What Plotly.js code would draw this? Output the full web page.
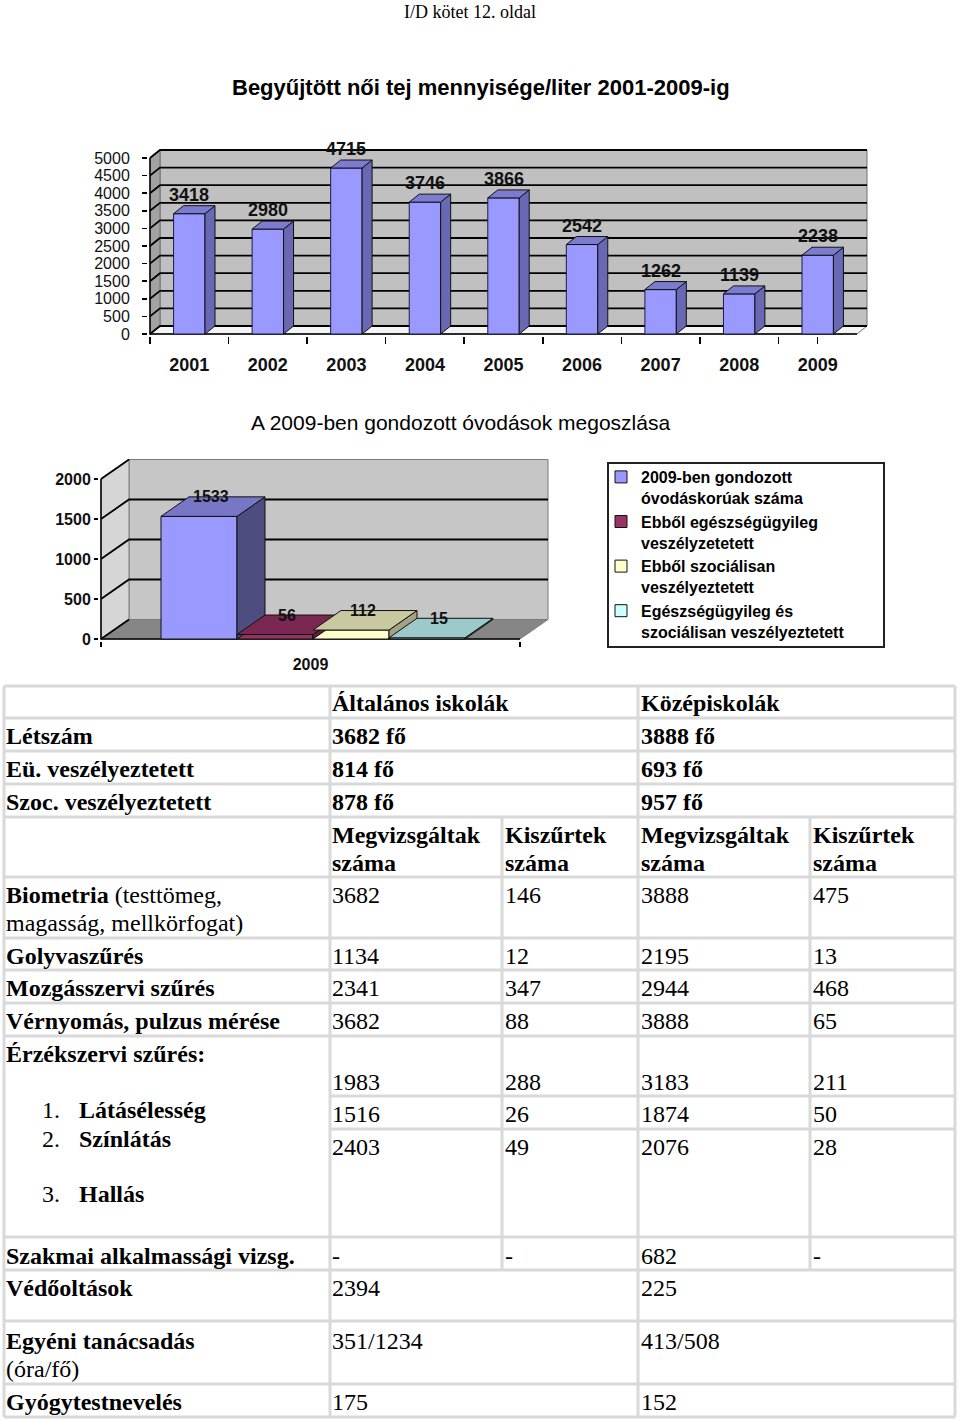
<!DOCTYPE html>
<html><head><meta charset="utf-8">
<script src="https://cdn.plot.ly/plotly-3.0.1.min.js"></script>
<style>html,body{margin:0;padding:0;background:#fff}</style>
</head><body><div id="page" style="width:960px;height:1420px"></div>
<script>
// ================= DATA =================
const pageHeader = 'I/D kötet 12. oldal';

const chart1Title = 'Begyűjtött női tej mennyisége/liter 2001-2009-ig';
const years = [2001, 2002, 2003, 2004, 2005, 2006, 2007, 2008, 2009];
const milkLiters = [3418, 2980, 4715, 3746, 3866, 2542, 1262, 1139, 2238];

const chart2Title = 'A 2009-ben gondozott óvodások megoszlása';
const kgYear = 2009;
const kgSeriesNames = [
  ['2009-ben gondozott', 'óvodáskorúak száma'],
  ['Ebből egészségügyileg', 'veszélyzetetett'],
  ['Ebből szociálisan', 'veszélyeztetett'],
  ['Egészségügyileg és', 'szociálisan veszélyeztetett']
];
const kgValues = [1533, 56, 112, 15];

const schoolTypes = ['Általános iskolák', 'Középiskolák'];
const countLabels = ['Létszám', 'Eü. veszélyeztetett', 'Szoc. veszélyeztetett'];
const countAltalanos = ['3682 fő', '814 fő', '878 fő'];
const countKozep = ['3888 fő', '693 fő', '957 fő'];
const measureHeads = ['Megvizsgáltak száma', 'Kiszűrtek száma'];

const screenLabels = ['Biometria', 'Golyvaszűrés', 'Mozgásszervi szűrés', 'Vérnyomás, pulzus mérése'];
const screenNotes = ['(testtömeg, magasság, mellkörfogat)', '', '', ''];
const screenAltVizsg = ['3682', '1134', '2341', '3682'];
const screenAltKisz = ['146', '12', '347', '88'];
const screenKozVizsg = ['3888', '2195', '2944', '3888'];
const screenKozKisz = ['475', '13', '468', '65'];

const senseTitle = 'Érzékszervi szűrés:';
const senseItems = ['Látásélesség', 'Színlátás', 'Hallás'];
const senseAltVizsg = ['1983', '1516', '2403'];
const senseAltKisz = ['288', '26', '49'];
const senseKozVizsg = ['3183', '1874', '2076'];
const senseKozKisz = ['211', '50', '28'];

const vocLabel = 'Szakmai alkalmassági vizsg.';
const vocValues = ['-', '-', '682', '-'];

const extraLabels = ['Védőoltások', 'Egyéni tanácsadás', 'Gyógytestnevelés'];
const extraNotes = ['', '(óra/fő)', ''];
const extraAltalanos = ['2394', '351/1234', '175'];
const extraKozep = ['225', '413/508', '152'];

// ================= LAYOUT HELPERS =================
const W = 960, H = 1420;
const px = x => x / W;
const py = y => 1 - y / H;
const SANS = 'Liberation Sans, Arial, sans-serif';
const SERIF = 'Liberation Serif, Times New Roman, serif';

function geom(g, cats) {
  const xmin = cats[0] - 0.5, xmax = cats[cats.length - 1] + 0.5;
  const catPx = (g.right - g.left) / (xmax - xmin);
  const valPx = (g.zeroY - g.topY) / g.topVal;
  const dX = g.depthX / catPx, dY = g.depthY / valPx;
  const padX = g.pad / catPx, padY = g.pad / valPx;
  const ticks = [];
  for (let v = 0; v <= g.topVal; v += g.step) ticks.push(v);
  return {
    xmin, xmax, catPx, valPx, dX, dY, ticks, T: g.topVal,
    xrange: [xmin - padX, xmax + dX + padX],
    yrange: [-padY, g.topVal + dY + padY],
    xdomain: [px(g.left - g.pad), px(g.right + g.depthX + g.pad)],
    ydomain: [py(g.zeroY + g.pad), py(g.topY - g.depthY - g.pad)]
  };
}

function frameShapes(G, xr, yr, st) {
  const s = [];
  const X0 = G.xmin, X1 = G.xmax, dX = G.dX, dY = G.dY, T = G.T;
  const base = { xref: xr, yref: yr, layer: 'below' };
  s.push(Object.assign({}, base, { type: 'rect', x0: X0 + dX, x1: X1 + dX, y0: dY, y1: T + dY,
    fillcolor: st.wall, line: { color: st.edge, width: 1 } }));
  s.push(Object.assign({}, base, { type: 'path',
    path: `M${X0},0L${X0 + dX},${dY}L${X0 + dX},${T + dY}L${X0},${T}Z`,
    fillcolor: st.side, line: { color: st.edge, width: 1 } }));
  s.push(Object.assign({}, base, { type: 'path',
    path: `M${X0},0L${X1},0L${X1 + dX},${dY}L${X0 + dX},${dY}Z`,
    fillcolor: st.floor, line: { color: st.edge, width: 1 } }));
  G.ticks.forEach(v => {
    const horiz = st.gridAll || (v > 0 && v < T);
    s.push(Object.assign({}, base, { type: 'path',
      path: `M${X0},${v}L${X0 + dX},${v + dY}` + (horiz ? `L${X1 + dX},${v + dY}` : ''),
      line: { color: '#000', width: st.gw } }));
  });
  s.push(Object.assign({}, base, { type: 'path',
    path: `M${X0},${T}L${X0},0L${X1},0`, line: { color: '#000', width: 1.5 } }));
  return s;
}

function faceTraces(xl, xr, v, G, sideColor, topColor, xa, ya) {
  const dX = G.dX, dY = G.dY;
  const common = { type: 'scatter', mode: 'lines', fill: 'toself', hoverinfo: 'skip',
    showlegend: false, xaxis: xa, yaxis: ya, line: { color: '#111', width: 1 } };
  return [
    Object.assign({}, common, { x: [xr, xr + dX, xr + dX, xr, xr], y: [0, dY, v + dY, v, 0], fillcolor: sideColor }),
    Object.assign({}, common, { x: [xl, xr, xr + dX, xl + dX, xl], y: [v, v, v + dY, v + dY, v], fillcolor: topColor })
  ];
}

// ================= CHART 1 =================
const g1 = { left: 150, right: 857, zeroY: 334, topY: 158, topVal: 5000, step: 500, depthX: 10, depthY: 8, pad: 2 };
const G1 = geom(g1, years);
const bar1W = 0.4;
const traces = [];
const shapes = [];
const annotations = [];

traces.push({ type: 'bar', x: years, y: milkLiters, width: bar1W, xaxis: 'x', yaxis: 'y',
  marker: { color: '#9999ff', opacity: 1, line: { color: '#1c1c48', width: 1 } },
  hoverinfo: 'skip', showlegend: false, name: chart1Title });
years.forEach((yr, i) => {
  traces.push(...faceTraces(yr - bar1W / 2, yr + bar1W / 2, milkLiters[i], G1, '#6868b4', '#7b7bcf', 'x', 'y'));
  annotations.push({ xref: 'x', yref: 'y', x: yr, y: milkLiters[i], yshift: 19, text: String(milkLiters[i]),
    showarrow: false, xanchor: 'center', yanchor: 'middle',
    font: { family: SANS, size: 18, weight: 'bold', color: '#111' } });
});
shapes.push(...frameShapes(G1, 'x', 'y', { wall: '#c0c0c0', side: '#a2a2a2', floor: '#f4f4f4', edge: '#707070', gridAll: true, gw: 1.8 }));

// ================= CHART 2 =================
const g2 = { left: 101, right: 520, zeroY: 639, topY: 479, topVal: 2000, step: 500, depthX: 28, depthY: 19.5, pad: 2 };
const G2 = geom(g2, [kgYear]);
const bars2LeftPx = 161, bar2Px = 76;
const bar2W = bar2Px / G2.catPx;
const bar2Start = (bars2LeftPx - g2.left) / G2.catPx - 0.5;
const kgFront = ['#9999ff', '#993366', '#ffffcc', '#ccffff'];
const kgSide = ['#4d4d80', '#5e1f3f', '#a3a383', '#86b0b0'];
const kgTop = ['#7777c6', '#7a2852', '#c9c9a1', '#9ccaca'];
kgValues.forEach((v, i) => {
  const off = bar2Start + i * bar2W;
  traces.push({ type: 'bar', x: [kgYear], y: [v], width: bar2W, offset: off, xaxis: 'x2', yaxis: 'y2',
    name: kgSeriesNames[i].join('<br>'),
    marker: { color: kgFront[i], opacity: 1, line: { color: '#111', width: 1 } }, hoverinfo: 'skip' });
});
kgValues.forEach((v, i) => {
  const xl = kgYear + bar2Start + i * bar2W, xr = xl + bar2W;
  traces.push(...faceTraces(xl, xr, v, G2, kgSide[i], kgTop[i], 'x2', 'y2'));
  annotations.push({ xref: 'x2', yref: 'y2', x: (xl + xr) / 2, y: v, xshift: 12, yshift: 19.5, text: String(v),
    showarrow: false, xanchor: 'center', yanchor: 'middle',
    font: { family: SANS, size: 16, weight: 'bold', color: '#111' } });
});
shapes.push(...frameShapes(G2, 'x2', 'y2', { wall: '#c6c6c6', side: '#d6d6d6', floor: '#868686', edge: '#7a7a7a', gridAll: false, gw: 1.8 }));
// legend frame
shapes.push({ type: 'rect', xref: 'paper', yref: 'paper', x0: px(608), x1: px(884), y0: py(647), y1: py(463),
  fillcolor: '#fff', line: { color: '#222', width: 2 }, layer: 'below' });

// ================= TITLES =================
function txt(x, y, text, o) {
  o = o || {};
  return { xref: 'paper', yref: 'paper', x: px(x), y: py(y), text: text, showarrow: false,
    xanchor: o.anchor || 'left', yanchor: 'middle',
    font: { family: o.family || SERIF, size: o.size || 24, color: '#000', weight: o.weight || 'normal' } };
}
annotations.push(txt(470, 12, pageHeader, { anchor: 'center', size: 18 }));
annotations.push(txt(481, 87, chart1Title, { anchor: 'center', size: 22, family: SANS, weight: 'bold' }));
annotations.push(txt(460, 423, chart2Title, { anchor: 'center', size: 21, family: SANS }));

// ================= TABLE =================
const colX = [4, 330, 502, 638, 810, 955];
const textX = [4, 330, 503, 639, 811];
const lineStep = 28, textOff = 17.5;
const tTop = 686, tHead = 718, tCounts = [718, 751, 784], tSub = 817, tScreen = [877, 938, 970, 1003];
const tSense = 1036, tSenseRows = [1036, 1096, 1129], tSenseEnd = 1237, tVoc = 1237, tExtra = [1270, 1321, 1384], tBottom = 1417;
const senseItemY = [1110, 1139, 1194];
const tblLine = { color: '#d9d9d9', width: 3 };
function hline(y, x0, x1) { shapes.push({ type: 'line', xref: 'paper', yref: 'paper', x0: px(x0), x1: px(x1), y0: py(y), y1: py(y), line: tblLine }); }
function vline(x, y0, y1) { shapes.push({ type: 'line', xref: 'paper', yref: 'paper', x0: px(x), x1: px(x), y0: py(y0), y1: py(y1), line: tblLine }); }
[tTop, tHead, 751, 784, tSub].concat(tScreen, [tSense, tSenseEnd], tExtra, [tBottom]).forEach(y => hline(y, colX[0], colX[5]));
tSenseRows.slice(1).forEach(y => hline(y, colX[1], colX[5]));
[colX[0], colX[1], colX[3], colX[5]].forEach(x => vline(x, tTop, tBottom));
[colX[2], colX[4]].forEach(x => vline(x, tSub, tExtra[0]));

const B = s => '<b>' + s + '</b>';
// header
annotations.push(txt(textX[1], tTop + textOff, B(schoolTypes[0])));
annotations.push(txt(textX[3], tTop + textOff, B(schoolTypes[1])));
// counts
countLabels.forEach((l, i) => {
  const y = tCounts[i] + textOff;
  annotations.push(txt(textX[0], y, B(l)));
  annotations.push(txt(textX[1], y, B(countAltalanos[i])));
  annotations.push(txt(textX[3], y, B(countKozep[i])));
});
// sub header
[1, 2, 3, 4].forEach(c => {
  const words = measureHeads[(c - 1) % 2].split(' ');
  annotations.push(txt(textX[c], tSub + textOff, B(words[0])));
  annotations.push(txt(textX[c], tSub + textOff + lineStep, B(words.slice(1).join(' '))));
});
// screenings
screenLabels.forEach((l, i) => {
  const y = tScreen[i] + textOff;
  const note = screenNotes[i];
  if (note) {
    const parts = note.split(' ');
    annotations.push(txt(textX[0], y, B(l) + ' ' + parts[0]));
    annotations.push(txt(textX[0], y + lineStep, parts.slice(1).join(' ')));
  } else {
    annotations.push(txt(textX[0], y, B(l)));
  }
  [screenAltVizsg, screenAltKisz, screenKozVizsg, screenKozKisz].forEach((arr, c) => {
    annotations.push(txt(textX[c + 1], y, arr[i]));
  });
});
// sense organs
annotations.push(txt(textX[0], tSense + textOff, B(senseTitle)));
senseItems.forEach((s, i) => {
  annotations.push(txt(40, senseItemY[i], (i + 1) + '.'));
  annotations.push(txt(77, senseItemY[i], B(s)));
});
tSenseRows.forEach((t, i) => {
  const y = t + textOff + (i === 0 ? lineStep : 0);
  [senseAltVizsg, senseAltKisz, senseKozVizsg, senseKozKisz].forEach((arr, c) => {
    annotations.push(txt(textX[c + 1], y, arr[i]));
  });
});
// vocational
annotations.push(txt(textX[0], tVoc + textOff + 1, B(vocLabel)));
vocValues.forEach((v, c) => annotations.push(txt(textX[c + 1], tVoc + textOff + 1, v)));
// extra rows
extraLabels.forEach((l, i) => {
  const y = tExtra[i] + textOff + (i === 1 ? 2 : 0);
  annotations.push(txt(textX[0], y, B(l)));
  if (extraNotes[i]) annotations.push(txt(textX[0], y + lineStep, extraNotes[i]));
  annotations.push(txt(textX[1], y, extraAltalanos[i]));
  annotations.push(txt(textX[3], y, extraKozep[i]));
});

// ================= AXES & LAYOUT =================
const tickFontBold = (size) => ({ family: SANS, size: size, weight: 'bold', color: '#111' });
const layout = {
  width: W, height: H, margin: { l: 0, r: 0, t: 0, b: 0 }, autosize: false,
  paper_bgcolor: '#fff', plot_bgcolor: 'rgba(0,0,0,0)', barmode: 'overlay', showlegend: true,
  xaxis: { domain: G1.xdomain, range: G1.xrange, anchor: 'y', tickmode: 'array', tickvals: years,
    ticktext: years.map(String), ticks: 'outside', ticklen: 7, tickcolor: 'rgba(0,0,0,0)',
    minor: { tickmode: 'array', tickvals: years.concat([G1.xmax]).map(v => v - 0.5), ticks: 'outside', ticklen: 7, tickcolor: '#000', tickwidth: 1.5, showgrid: false },
    showgrid: false, zeroline: false, showline: false, tickfont: tickFontBold(18), ticklabelstandoff: 5, fixedrange: true },
  yaxis: { domain: G1.ydomain, range: G1.yrange, anchor: 'x', tickmode: 'linear', tick0: 0, dtick: g1.step,
    ticks: 'outside', ticklen: 5, tickwidth: 1.5, tickcolor: '#000', showgrid: false, zeroline: false, showline: false,
    tickfont: { family: SANS, size: 16, color: '#111' }, ticklabelstandoff: 9, fixedrange: true },
  xaxis2: { domain: G2.xdomain, range: G2.xrange, anchor: 'y2', tickmode: 'array', tickvals: [kgYear],
    ticktext: [String(kgYear)], ticks: 'outside', ticklen: 5, tickcolor: 'rgba(0,0,0,0)',
    minor: { tickmode: 'array', tickvals: [G2.xmin, G2.xmax], ticks: 'outside', ticklen: 5, tickcolor: '#000', tickwidth: 1.5, showgrid: false },
    showgrid: false, zeroline: false, showline: false, tickfont: tickFontBold(16), ticklabelstandoff: 4, fixedrange: true },
  yaxis2: { domain: G2.ydomain, range: G2.yrange, anchor: 'x2', tickmode: 'linear', tick0: 0, dtick: g2.step,
    ticks: 'outside', ticklen: 4, tickwidth: 1.5, tickcolor: '#000', showgrid: false, zeroline: false, showline: false,
    tickfont: tickFontBold(16), ticklabelstandoff: 0, fixedrange: true },
  legend: { x: px(601), xanchor: 'left', y: py(460), yanchor: 'top', bgcolor: 'rgba(0,0,0,0)', borderwidth: 0,
    font: { family: SANS, size: 16, weight: 'bold', color: '#000' }, valign: 'top', traceorder: 'normal', tracegroupgap: 0 },
  shapes: shapes, annotations: annotations
};

Plotly.newPlot('page', traces, layout, { displayModeBar: false, staticPlot: true });
</script>
</body></html>
